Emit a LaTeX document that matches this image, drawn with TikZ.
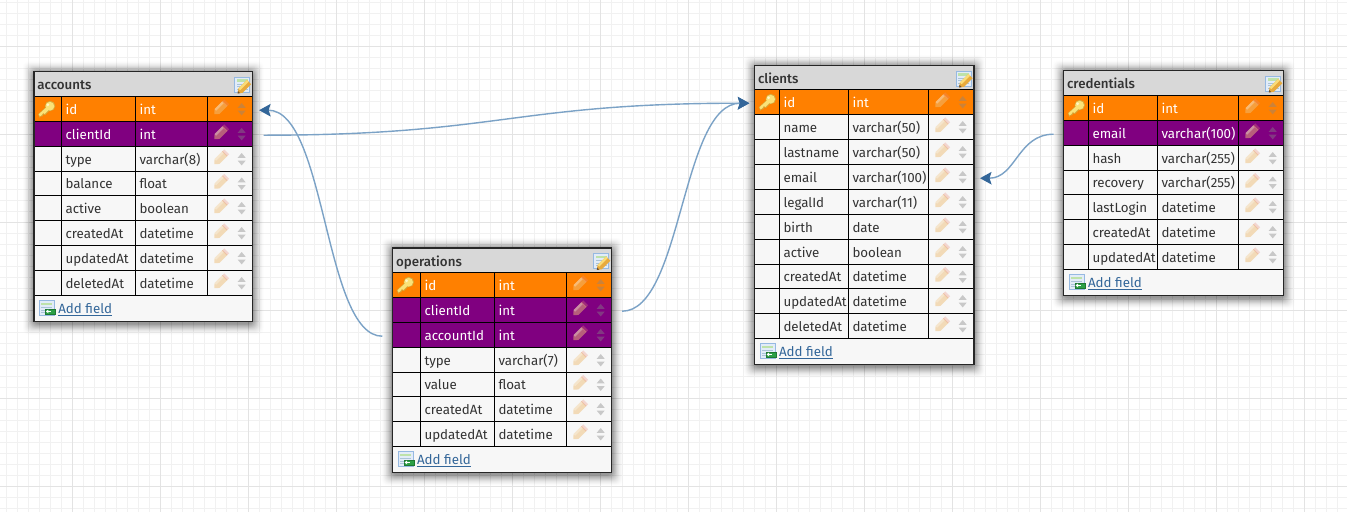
\documentclass[tikz,border=0pt]{standalone}
\usepackage{fontspec}
\setmainfont{Fira Sans}
\newfontfamily\titlefont{Fira Sans Medium}
\usetikzlibrary{arrows.meta}
\definecolor{orangerow}{HTML}{FF8000}
\definecolor{purplerow}{HTML}{800080}
\definecolor{bodygray}{HTML}{F7F7F7}
\definecolor{titlegray}{HTML}{D8D8D8}
\definecolor{inkgray}{HTML}{333333}
\definecolor{linkblue}{HTML}{336699}
\definecolor{relblue}{HTML}{7BA2C6}
\definecolor{gridminor}{HTML}{F1F1F1}
\definecolor{gridmajor}{HTML}{E3E3E3}
\def\kindK{k}\def\kindF{f}
\tikzset{
  minorline/.style={draw=gridminor,line width=1pt},
  majorline/.style={draw=gridmajor,line width=1pt},
  tablebox/.style={anchor=north west,inner sep=0pt,outer sep=0pt,fill=bodygray},
  titlebox/.style={anchor=north west,inner sep=0pt,outer sep=0pt,fill=titlegray},
  rowbox/.style={anchor=north west,inner sep=0pt,outer sep=0pt,draw=black,line width=1pt},
  celltext/.style={anchor=base west,inner sep=0pt,outer sep=0pt,font=\fontsize{13.33}{16}\selectfont},
  titletext/.style={anchor=base west,inner sep=0pt,outer sep=0pt,text=inkgray,font=\titlefont\fontsize{13.33}{16}\selectfont},
  linktext/.style={anchor=base west,inner sep=0pt,outer sep=0pt,text=linkblue,font=\fontsize{13.33}{16}\selectfont},
  rowlineV/.style={draw=black,line width=1pt},
  rel/.style={draw=relblue,line width=1.4pt,-{Stealth[length=11.5pt,width=12.5pt,inset=2pt,color=linkblue,fill=linkblue]}},
}
% small icons, drawn directly
\newcommand{\pencilicon}[2]{%
  \begin{scope}[shift={(#1,#2)},rotate=45]
    \fill[opacity=.5,color={rgb,255:red,238;green,190;blue,120}] (-8.8,0) -- (-5,-3.4) -- (6.5,-3.4) -- (6.5,3.4) -- (-5,3.4) -- cycle;
    \fill[opacity=.3,color={rgb,255:red,235;green,140;blue,120}] (5.5,-3.4) rectangle (8.8,3.4);
    \fill[opacity=.3,white] (-5,-3.4) rectangle (5.5,-1.2);
  \end{scope}}
\newcommand{\updownicon}[2]{%
  \begin{scope}[shift={(#1,#2)}]
    \fill[opacity=.42,color={rgb,255:red,135;green,135;blue,135}] (-4,-1.2) -- (0,-6) -- (4,-1.2) -- cycle;
    \fill[opacity=.42,color={rgb,255:red,135;green,135;blue,135}] (-4,1.6) -- (0,6.4) -- (4,1.6) -- cycle;
  \end{scope}}
\newcommand{\keyicon}[2]{%
  \begin{scope}[shift={(#1,#2)}]
    \fill[color={rgb,255:red,214;green,170;blue,60}] (-8.6,5.2) -- (0.2,-3) -- (3.8,0.8) -- (-1.6,6) -- (-3.2,5.2) -- (-4.4,7.4) -- (-5.8,7.2) -- (-7,8.8) -- cycle;
    \fill[color={rgb,255:red,214;green,170;blue,60}] (3.4,-3) circle (5.2);
    \fill[color={rgb,255:red,250;green,226;blue,120}] (-7.9,5.2) -- (0.4,-2.2) -- (2.8,0.2) -- (-2,4.9) -- (-3.6,4) -- (-5,6.1) -- (-6.8,7.4) -- cycle;
    \fill[color={rgb,255:red,250;green,226;blue,120}] (3.2,-2.8) circle (4.4);
    \fill[color={rgb,255:red,255;green,248;blue,200}] (1.2,-4.2) circle (1.5);
  \end{scope}}
\newcommand{\sheeticon}[2]{%
  \begin{scope}[shift={(#1,#2)}]
    \fill[color={rgb,255:red,226;green,236;blue,248},draw={rgb,255:red,150;green,185;blue,225},line width=.9pt] (0,0) rectangle (15,15);
    \fill[color={rgb,255:red,190;green,226;blue,170}] (2,2) rectangle (13,4.5);
    \foreach \q in {6.5,9,11.5}{\fill[color={rgb,255:red,170;green,195;blue,215}] (2,\q) rectangle (13,\q+1);}
  \end{scope}}
\newcommand{\editicon}[2]{%
  \sheeticon{#1}{#2}%
  \begin{scope}[shift={(#1+9.5,#2+10)},rotate=45]
    \fill[color={rgb,255:red,232;green,170;blue,60}] (-9,0) -- (-5,-3) -- (7,-3) -- (7,3) -- (-5,3) -- cycle;
    \fill[color={rgb,255:red,250;green,220;blue,120}] (-5,-3) rectangle (7,-.6);
    \fill[color={rgb,255:red,110;green,80;blue,50}] (-9,0) -- (-7,-1.5) -- (-7,1.5) -- cycle;
  \end{scope}}
\newcommand{\addicon}[2]{%
  \sheeticon{#1}{#2}%
  \fill[color={rgb,255:red,44;green,160;blue,70},draw={rgb,255:red,30;green,120;blue,50},line width=.6pt] (#1+6,#2+8) rectangle (#1+16,#2+13);
  \draw[white,line width=.9pt] (#1+8,#2+10.5) -- (#1+12,#2+10.5);
  \fill[white] (#1+6.6,#2+10.5) -- (#1+9,#2+8.6) -- (#1+9,#2+12.4) -- cycle;}
% {prefix}{title}{L}{T}{R}{colA}{colB}{colC}{rows: name/type/kind}
% \tTB = bottom of the title bar, \tBot = bottom of the table, \tShort = index of the one 24px row
\newcommand{\dbtable}[9]{%
  \foreach \k in {0,...,15}{%
    \pgfmathsetmacro{\sE}{11.5-.72*\k}%
    \pgfmathsetmacro{\sO}{.004+.0035*\k}%
    \fill[black,opacity=\sO,rounded corners=6pt] (#3-\sE,#4-\sE+1) rectangle (#5+\sE,\tBot+\sE+2);
  }%
  \pgfmathsetmacro{\tW}{#5-#3}%
  \pgfmathsetmacro{\tH}{\tBot-#4}%
  \pgfmathsetmacro{\tTH}{\tTB-#4}%
  \node[tablebox,minimum width=\tW pt,minimum height=\tH pt] (#1) at (#3,#4) {};
  \node[titlebox,minimum width=\tW pt,minimum height=\tTH pt] (#1-title) at (#3,#4) {};
  \pgfmathsetmacro{\titlebase}{#4+18}%
  \node[titletext] (#1-name) at (#3+3.4,\titlebase) {#2};
  \editicon{#5-18}{#4+5.6}%
  \foreach \fname/\ftype/\fkind [count=\n] in {#9}{%
    \pgfmathsetmacro{\rY}{\tTB+(\n-1)*25-(\n>\tShort?1:0)}%
    \pgfmathsetmacro{\rH}{\n==\tShort?24:25}%
    \pgfmathsetmacro{\rM}{\rY+\rH/2}%
    \pgfmathsetmacro{\rB}{\rY+\rH/2+5.3}%
    \def\rfill{bodygray}\def\rtext{inkgray}%
    \ifx\fkind\kindK\def\rfill{orangerow}\def\rtext{white}\fi
    \ifx\fkind\kindF\def\rfill{purplerow}\def\rtext{white}\fi
    \node[rowbox,fill=\rfill,minimum width=\tW pt,minimum height=\rH pt] (#1-\n) at (#3,\rY) {};
    \node[celltext,text=\rtext] (#1-\n-name) at (#6+4,\rB) {\fname};
    \node[celltext,text=\rtext] (#1-\n-type) at (#7+4,\rB) {\ftype};
    \ifx\fkind\kindK\keyicon{#3+12.7}{\rM}\fi
    \pencilicon{#8+13}{\rM-1}%
    \updownicon{#8+34.2}{\rM}%
  }%
  \draw[rowlineV] (#6,\tTB) -- (#6,\tBot-26);
  \draw[rowlineV] (#7,\tTB) -- (#7,\tBot-26);
  \draw[rowlineV] (#8,\tTB) -- (#8,\tBot-26);
  \addicon{#3+5.3}{\tBot-20.6}%
  \pgfmathsetmacro{\addbase}{\tBot-8.3}%
  \node[linktext] (#1-add) at (#3+24.3,\addbase) {\underline{Add field}};
  \draw[draw=black!85,line width=1.3pt] (#1.north west) rectangle (#1.south east);
}
\begin{document}
\begin{tikzpicture}[x=1pt,y=-1pt]
\useasboundingbox (0,0) rectangle (1347,512);
\fill[white] (0,0) rectangle (1347,512);
\foreach \i in {0,...,122}{\draw[minorline] ({6.5+11*\i},0) -- ({6.5+11*\i},512);}
\foreach \i in {0,...,46}{\draw[minorline] (0,{2.5+11*\i}) -- (1347,{2.5+11*\i});}
\foreach \i in {0,...,15}{\draw[majorline] ({72.5+88*\i},0) -- ({72.5+88*\i},512);}
\foreach \i in {0,...,5}{\draw[majorline] (0,{46.5+88*\i}) -- (1347,{46.5+88*\i});}

\def\tTB{96.5}\def\tBot{321.5}\def\tShort{4}
\dbtable{acc}{accounts}{34}{71.5}{252.5}{61.5}{135.5}{207.5}{id/int/k,clientId/int/f,type/varchar(8)/n,balance/float/n,active/boolean/n,createdAt/datetime/n,updatedAt/datetime/n,deletedAt/datetime/n}

\def\tTB{272.5}\def\tBot{472.5}\def\tShort{5}
\dbtable{ope}{operations}{392.7}{248}{611.7}{420.5}{494.5}{566.5}{id/int/k,clientId/int/f,accountId/int/f,type/varchar(7)/n,value/float/n,createdAt/datetime/n,updatedAt/datetime/n}

\def\tTB{89.5}\def\tBot{364.5}\def\tShort{8}
\dbtable{cli}{clients}{754.7}{65.5}{974}{779.5}{848.5}{928.5}{id/int/k,name/varchar(50)/n,lastname/varchar(50)/n,email/varchar(100)/n,legalId/varchar(11)/n,birth/date/n,active/boolean/n,createdAt/datetime/n,updatedAt/datetime/n,deletedAt/datetime/n}

\def\tTB{95.5}\def\tBot{295.5}\def\tShort{4}
\dbtable{cre}{credentials}{1063.7}{70.5}{1283.7}{1088.5}{1157.5}{1238.5}{id/int/k,email/varchar(100)/f,hash/varchar(255)/n,recovery/varchar(255)/n,lastLogin/datetime/n,createdAt/datetime/n,updatedAt/datetime/n}

\draw[rel] ([xshift=11pt,yshift=-1.2pt]acc-2.east) .. controls +(236,0) and +(-236,0) .. ([xshift=-5.4pt,yshift=-1.2pt]cli-1.west);
\draw[rel] ([xshift=10.4pt,yshift=-1.2pt]ope-2.east) .. controls +(60,0) and +(-68,0) .. ([xshift=-5.4pt,yshift=-1.2pt]cli-1.west);
\draw[rel] ([xshift=-10.4pt,yshift=-1.2pt]ope-3.west) .. controls +(-58,0) and +(67,0) .. ([xshift=6.6pt,yshift=-1.2pt]acc-1.east);
\draw[rel] ([xshift=-10pt,yshift=-1.2pt]cre-2.west) .. controls +(-36,0) and +(36,0) .. ([xshift=6pt,yshift=-1.2pt]cli-4.east);
\end{tikzpicture}
\end{document}
